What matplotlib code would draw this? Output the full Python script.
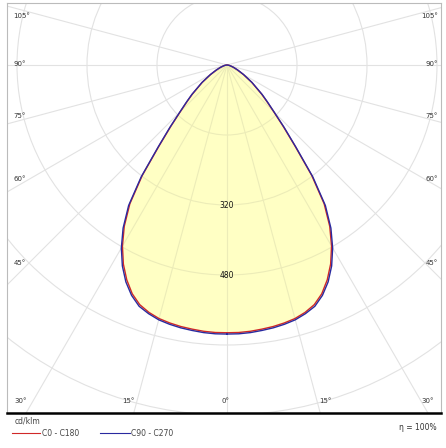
import numpy as np
import matplotlib.pyplot as plt
from matplotlib.patches import Circle, Polygon

# Luminous intensity distribution (cd/klm)
gamma = [0, 2.5, 5, 7.5, 10, 12.5, 15, 17.5, 20, 22.5, 25, 27.5, 30, 32.5, 35, 37.5,
         40, 42.5, 45, 47.5, 50, 55, 60, 65, 70, 75, 80, 85, 90]
c0_c180 = [612, 612, 611, 609, 607, 604, 600, 593, 583, 566, 542, 513, 478, 437, 387, 318,
           242, 190, 151, 124, 103, 69, 43, 26, 16, 9, 5, 2, 0]
c90_c270 = [615, 615, 614, 612, 610, 607, 603, 596, 587, 570, 547, 518, 483, 442, 392, 322,
            245, 193, 153, 126, 105, 70, 44, 27, 16, 9, 5, 2, 0]

ring_values = [160, 320, 480, 640, 800, 960]
ring_labels = [320, 480]
ray_angles = [-105, -90, -75, -60, -45, -30, -15, 0, 15, 30, 45, 60, 75, 90, 105]
efficiency = "η = 100%"
unit = "cd/klm"


def to_xy(g, r):
    # g in degrees, positive = left side, 0 pointing down
    g = np.radians(np.asarray(g, dtype=float))
    r = np.asarray(r, dtype=float)
    return -r * np.sin(g), -r * np.cos(g)


def closed_curve(vals):
    g = np.array(gamma)
    full_g = np.concatenate([g, -g[::-1]])
    full_r = np.concatenate([vals, vals[::-1]])
    return to_xy(full_g, full_r)


W, H = 446, 448
fig = plt.figure(figsize=(W / 100, H / 100), dpi=100)
cx, cy = 227, 65           # centre in pixels (from top-left)
left, right, top, bottom = 7, 441, 3, 413
scale = 160 / 70.0          # cd/klm per pixel

ax = fig.add_axes([left / W, (H - bottom) / H, (right - left) / W, (bottom - top) / H])
ax.set_xlim((left - cx) * scale, (right - cx) * scale)
ax.set_ylim((cy - bottom) * scale, (cy - top) * scale)
ax.set_xticks([])
ax.set_yticks([])
for s in ["left", "right", "top"]:
    ax.spines[s].set_color("#bbbbbb")
    ax.spines[s].set_linewidth(0.8)
ax.spines["bottom"].set_color("black")
ax.spines["bottom"].set_linewidth(1.8)

grid_c = "#e2e2e2"
# rings
for rv in ring_values:
    ax.add_patch(Circle((0, 0), rv, fill=False, ec=grid_c, lw=0.8, zorder=1))
# rays
for a in ray_angles:
    x, y = to_xy([0, a], [0, 1500])
    ax.plot([0, x[1]], [0, y[1]], color=grid_c, lw=0.8, zorder=1)

# fill + curves
xb, yb = closed_curve(c90_c270)
poly = Polygon(np.column_stack([xb, yb]), closed=True, fc="#ffffc4", ec="none", zorder=2)
ax.add_patch(poly)
# grid faintly visible through the fill
for rv in ring_values:
    c = Circle((0, 0), rv, fill=False, ec="#ececb8", lw=0.8, zorder=3)
    ax.add_patch(c)
    c.set_clip_path(poly)
for a in ray_angles:
    x, y = to_xy([0, a], [0, 1500])
    ln, = ax.plot([0, x[1]], [0, y[1]], color="#ececb8", lw=0.8, zorder=3)
    ln.set_clip_path(poly)

xr, yr = closed_curve(c0_c180)
ax.plot(xr, yr, color="#d02828", lw=1.0, zorder=4)
ax.plot(xb, yb, color="#2a2aa0", lw=1.0, zorder=5)

# ring labels
for rv in ring_labels:
    ax.text(0, -rv, str(rv), ha="center", va="center", fontsize=5.5, color="#111111", zorder=6)

# angle labels (pixel positions along the frame)
lab_px = {
    105: (22, 16), 90: (20, 64), 75: (20, 116), 60: (20, 179), 45: (20, 263),
    30: (21, 401), 15: (128, 401), 0: (225, 401),
    -15: (325, 401), -30: (428, 401), -45: (432, 263), -60: (432, 179),
    -75: (432, 116), -90: (432, 64), -105: (430, 16),
}
for a, (px, py) in lab_px.items():
    ax.text((px - cx) * scale, (cy - py) * scale, f"{abs(a)}°", ha="center", va="center",
            fontsize=5, color="#333333", zorder=6)

# legend below
fig.text(15 / W, 1 - 421 / H, unit, fontsize=5.5, color="#444444", va="center")
fig.lines.append(plt.Line2D([12 / W, 40 / W], [1 - 433 / H] * 2, color="#d02828", lw=0.8,
                            transform=fig.transFigure))
fig.text(42 / W, 1 - 433 / H, "C0 - C180", fontsize=5.5, color="#444444", va="center")
fig.lines.append(plt.Line2D([100 / W, 130 / W], [1 - 433 / H] * 2, color="#2a2aa0", lw=0.8,
                            transform=fig.transFigure))
fig.text(131 / W, 1 - 433 / H, "C90 - C270", fontsize=5.5, color="#444444", va="center")
fig.text(437 / W, 1 - 427 / H, efficiency, fontsize=5.5, color="#333333", va="center", ha="right")

fig.savefig("out.png", dpi=100)
